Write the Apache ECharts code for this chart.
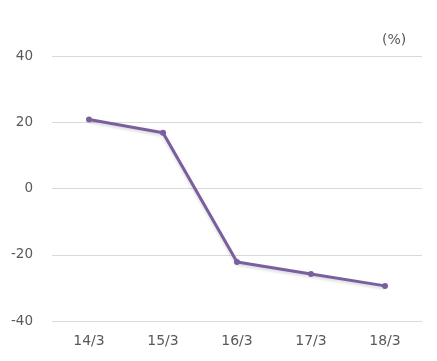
<!DOCTYPE html>
<html><head><meta charset="utf-8">
<script src="https://cdn.jsdelivr.net/npm/echarts@6/dist/echarts.min.js"></script>
<style>html,body{margin:0;padding:0;background:#fff}#c{width:437px;height:361px}</style>
</head><body><div id="c"></div>
<script>
const categories = ['14/3','15/3','16/3','17/3','18/3'];
const values = [20.8, 16.8, -22.2, -25.8, -29.4];
const yTicks = [-40, -20, 0, 20, 40];
const unitLabel = '(%)';

const chart = echarts.init(document.getElementById('c'), null, {renderer:'canvas'});
chart.setOption({
  animation:false,
  backgroundColor:'#fff',
  textStyle:{fontFamily:'DejaVu Sans'},
  graphic:[{type:'text', left:382, top:33, style:{text:unitLabel, fill:'#595959', font:'14px DejaVu Sans'}}],
  grid:{left:52, right:15, top:56, bottom:40},
  xAxis:{type:'category', data:categories, boundaryGap:true,
    axisLine:{show:false}, axisTick:{show:false},
    axisLabel:{color:'#595959', fontSize:14, margin:13, fontFamily:'DejaVu Sans'}},
  yAxis:{type:'value', min:yTicks[0], max:yTicks[yTicks.length-1], interval:20,
    axisLine:{show:false}, axisTick:{show:false},
    splitLine:{lineStyle:{color:'#d9d9d9', width:1}},
    axisLabel:{color:'#595959', fontSize:13.5, margin:19, fontFamily:'DejaVu Sans'}},
  series:[{type:'line', data:values, symbol:'circle', symbolSize:6,
    lineStyle:{color:'#7a5f9e', width:3, shadowColor:'rgba(0,0,0,0.15)', shadowBlur:3, shadowOffsetY:2},
    itemStyle:{color:'#7a5f9e'}}]
});
</script></body></html>
